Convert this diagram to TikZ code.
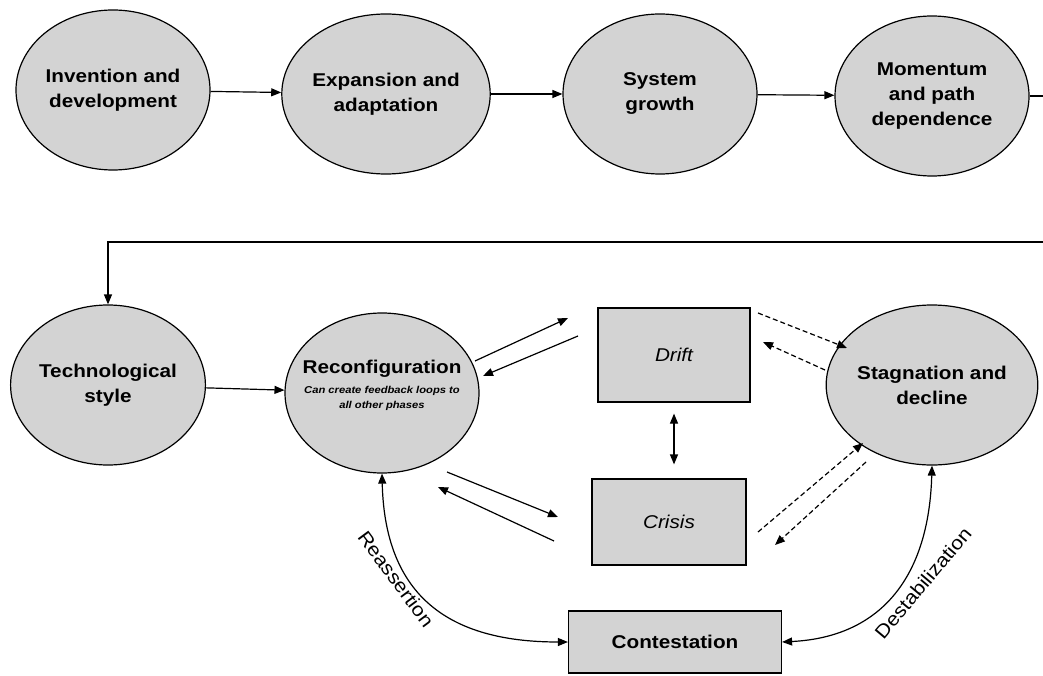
\documentclass[tikz,border=0pt]{standalone}
\usepackage{fontspec}
\setmainfont{Liberation Sans}[FakeStretch=1.12]
\usetikzlibrary{shapes.geometric,arrows.meta}
\definecolor{phasefill}{RGB}{211,211,211}
\begin{document}
\begin{tikzpicture}[x=1pt,y=-1pt,line width=1.2pt,
    >={Stealth[length=10pt,width=8pt,inset=0pt]},
    phase/.style={ellipse,draw,fill=phasefill,minimum width=194pt,minimum height=160pt,
        inner sep=0pt,align=center,font=\bfseries\fontsize{18.5}{25}\selectfont},
    stage/.style={rectangle,draw,fill=phasefill,inner sep=0pt,
        font=\itshape\fontsize{18.5}{25}\selectfont},
    back/.style={dash pattern=on 5pt off 3pt},
    curvelabel/.style={font=\fontsize{19}{22}\selectfont,inner sep=0pt}]
            \useasboundingbox (0,0) rectangle (1043,676);
            % first row of phases
            \node[phase] (inv) at (113,90) {Invention and\\development};
            \node[phase] (exp) at (386,94) {Expansion and\\adaptation};
            \node[phase] (sys) at (660,94) {System\\growth};
            \node[phase] (mom) at (932,96) {Momentum\\and path\\dependence};
            \draw[->] (inv) -- (exp);
            \draw[->] (exp) -- (sys);
            \draw[->] (sys) -- (mom);
            % second row
            \node[phase] (tech) at (108,385) {Technological\\style};
            \node[phase] (reconf) at (382,393) {};
            \node[font=\bfseries\fontsize{18.5}{25}\selectfont] (reconftitle) at (382,369) {Reconfiguration};
            \node[align=center,font=\bfseries\itshape\fontsize{10}{15}\selectfont] (reconfnote) at (382,398)
                {Can create feedback loops to\\all other phases};
            \node[phase] (stag) at (932,385) {Stagnation and\\decline};
            \node[stage,minimum width=152pt,minimum height=94pt] (drift) at (674,355) {Drift};
            \node[stage,minimum width=154pt,minimum height=86pt] (crisis) at (669,522) {Crisis};
            \node[stage,minimum width=213pt,minimum height=62pt,font=\bfseries\fontsize{18.5}{25}\selectfont]
                (contest) at (675,642) {Contestation};
            % return line from the first row
            \coordinate (edge) at (1043,242);
            \draw (mom.east) -- (mom.east -| edge);
            \draw[->] (edge) -| (tech.north);
            \draw[->] (tech) -- (reconf);
            % exchanges with drift and crisis
            \coordinate (rd1) at (475,361); \coordinate (rd2) at (568,318);
            \coordinate (dr1) at (578,336); \coordinate (dr2) at (483,376);
            \coordinate (rc1) at (447,472); \coordinate (rc2) at (558,517);
            \coordinate (cr1) at (554,541); \coordinate (cr2) at (438,487);
            \draw[->] (rd1) -- (rd2);
            \draw[->] (dr1) -- (dr2);
            \draw[->] (rc1) -- (rc2);
            \draw[->] (cr1) -- (cr2);
            \draw[<->,shorten <=11pt,shorten >=14pt] (drift.south) -- (drift.south |- crisis.north);
            \coordinate (ds1) at (758,313); \coordinate (ds2) at (847,348);
            \coordinate (sd1) at (825,370); \coordinate (sd2) at (763,342);
            \coordinate (cs1) at (758,532); \coordinate (cs2) at (863,443);
            \coordinate (sc1) at (866,462); \coordinate (sc2) at (775,545);
            \draw[->,back] (ds1) -- (ds2);
            \draw[->,back] (sd1) -- (sd2);
            \draw[->,back] (cs1) -- (cs2);
            \draw[->,back] (sc1) -- (sc2);
            % contestation loops
            \draw[<->] (reconf.south) .. controls +(3,130) and +(-110,0) .. (contest.west);
            \draw[<->] (stag.south) .. controls +(-3,110) and +(100,-5) .. (contest.east);
            \node[curvelabel,rotate=-53.5] (reassert) at (396,579) {Reassertion};
            \node[curvelabel,rotate=50] (destab) at (923,583) {Destabilization};
        \end{tikzpicture}
\end{document}
